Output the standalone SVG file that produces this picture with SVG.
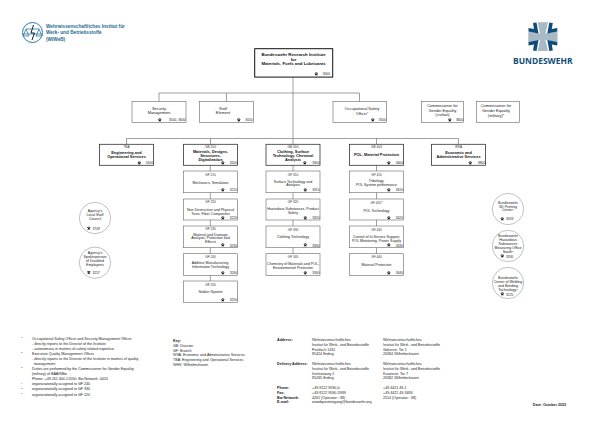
<svg xmlns="http://www.w3.org/2000/svg" xmlns:xlink="http://www.w3.org/1999/xlink" width="596" height="421" viewBox="0 0 596 421">
<style>
text{font-family:"Liberation Sans",Arial,sans-serif;font-size:3.6px;fill:#222}
.m{text-anchor:middle}
.e{text-anchor:end}
.b{font-weight:bold;fill:#111}
.t{font-size:4.3px}
.h{font-size:3.9px}
.g{font-size:3.2px;fill:#333}
.c{font-size:3.3px;fill:#222}
.s{font-size:2.4px}
.n{fill:#fff;stroke:#666;stroke-width:.6}
.d{fill:#fff;stroke:#333;stroke-width:.8}
.top{fill:#fff;stroke:#111;stroke-width:1}
.o{fill:#fff;stroke:#777;stroke-width:.45}
.l{fill:none;stroke:#777;stroke-width:.7}
.fn{font-size:3.65px;fill:#222}
.ad{font-size:3.65px;fill:#222}
</style>
<defs>
<symbol id="ph" viewBox="0 0 4 4" overflow="visible"><path d="M.2 1.4C.5.4 3.5.4 3.8 1.4L3.8 2 2.9 2 2.8 1.5 1.2 1.5 1.1 2 .2 2ZM1.2 1.9H2.8L3.5 3.6H.5Z" fill="#111"/></symbol>
<path id="arrow" d="M533 23L536.5 22.5L538.5 33.5L528.5 31.5L528.5 28L534 29Z" fill="#0f4d78"/>
</defs>
<rect width="596" height="421" fill="#fff"/>
<g id="logo-wiweb">
<circle cx="32.5" cy="32.5" r="10" fill="#fff" stroke="#2a7ba5" stroke-width="1"/>
<path d="M23 34H42M26 29L23 36H29ZM39 29L36 36H42ZM26 29H39" fill="none" stroke="#2a7ba5" stroke-width=".8"/>
<path d="M33.5 25L31 33H34.5L32 40" fill="none" stroke="#123" stroke-width="1"/>
<text x="46" y="28" class="b" style="font-size:4.7px;fill:#1f6a90">Wehrwissenschaftliches Institut für</text>
<text x="46" y="34.3" class="b" style="font-size:4.7px;fill:#1f6a90">Werk- und Betriebsstoffe</text>
<text x="46" y="40.5" class="b" style="font-size:4.7px;fill:#1f6a90">(WIWeB)</text>
</g>
<g id="logo-bundeswehr">
<path d="M537.7 22.3H548L545.5 33.5L557.5 31.5V42L545.5 40L548 51H537.7L540 40L528.3 42V31.5L540 33.5Z" fill="#a9b9c5"/>
<use href="#arrow"/>
<use href="#arrow" transform="matrix(-1 0 0 1 1085.8 0)"/>
<use href="#arrow" transform="matrix(1 0 0 -1 0 73.4)"/>
<use href="#arrow" transform="matrix(-1 0 0 -1 1085.8 73.4)"/>
<text x="513" y="63.8" textLength="59.5" lengthAdjust="spacingAndGlyphs" style="font-size:9.5px;font-weight:bold;fill:#0f4d78;font-family:'Open Sans','Liberation Sans',sans-serif">BUNDESWEHR</text>
</g>
<g id="connectors">
<path class="l" d="M293 77V144M159 93H359.5M159 93V101.5M226.5 93V101.5M359.5 93V101.5M126.5 138.5H458.5M126.5 138.5V144.3M210.5 138.5V144.3M376.5 138.5V144.3M458.5 138.5V144.3"/>
<path class="l" d="M210.3 165V281M293 165V254M376.5 165V254"/>
</g>
<g id="n-director"><rect class="top" x="254.7" y="48.7" width="78" height="28.4"/><text class="m b t" x="293.5" y="56.3">Bundeswehr Research Institute</text><text class="m b t" x="293.5" y="60.8">for</text><text class="m b t" x="293.5" y="65.3">Materials, Fuels and Lubricants</text><use href="#ph" x="314.5" y="72" width="3.6" height="3.6"/><text class="c e" x="330" y="75.3">3000</text></g>
<g id="n-security"><rect class="n" x="132" y="101.5" width="54" height="21"/><text class="m h" x="159" y="109.7">Security</text><text class="m h" x="159" y="114.3">Management</text><use href="#ph" x="158" y="118" width="3.6" height="3.6"/><text class="c e" x="185.5" y="121.3">3500, 3640</text></g>
<g id="n-staff"><rect class="n" x="199.5" y="101.5" width="54" height="21"/><text class="m h" x="223" y="109.7">Staff</text><text class="m h" x="223" y="114.3">Element</text><use href="#ph" x="237" y="118" width="3.6" height="3.6"/><text class="c e" x="252.7" y="121.3">3010</text></g>
<g id="n-safety"><rect class="n" x="333" y="101.5" width="53.5" height="21"/><text class="m h" x="362" y="110">Occupational Safety</text><text class="m h" x="362" y="114.7">Officer<tspan class="s" dy="-1.3">1</tspan></text><use href="#ph" x="371" y="118" width="3.6" height="3.6"/><text class="c e" x="386" y="121.3">3500</text></g>
<g id="n-gender-civ"><rect class="n" x="421.3" y="101.5" width="42.4" height="21"/><text class="m h" x="442.5" y="107">Commissioner for</text><text class="m h" x="442.5" y="111.6">Gender Equality</text><text class="m h" x="442.5" y="116.2">(civilian)</text><use href="#ph" x="448" y="118" width="3.6" height="3.6"/><text class="c e" x="463.3" y="121.3">3600</text></g>
<g id="n-gender-mil"><rect class="n" x="476.5" y="101.5" width="43" height="21"/><text class="m h" x="496" y="107.3">Commissioner for</text><text class="m h" x="496" y="112">Gender Equality</text><text class="m h" x="496" y="116.6">(military)<tspan class="s" dy="-1.3">3</tspan></text></g>

<g id="n-tba"><rect class="d" x="99.5" y="144.3" width="54" height="21"/><text class="m g" x="126.5" y="147.8">TBA</text><text class="m b h" x="126.5" y="153.8">Engineering and</text><text class="m b h" x="126.5" y="158">Operational Services</text><use href="#ph" x="137.5" y="161" width="3.6" height="3.6"/><text class="c e" x="153" y="164.2">3100</text></g>
<g id="n-gb200"><rect class="d" x="183.5" y="144.3" width="54" height="21"/><text class="m g" x="210.5" y="147.8">GB 200</text><text class="m b h" x="210.5" y="152.5">Materials, Designs,</text><text class="m b h" x="210.5" y="156.5">Structures,</text><text class="m b h" x="210.5" y="160.7">Digitalization</text><use href="#ph" x="221" y="161" width="3.6" height="3.6"/><text class="c e" x="237" y="164.2">3200</text></g>
<g id="n-gb300"><rect class="d" x="266" y="144.3" width="54" height="21"/><text class="m g" x="293" y="147.8">GB 300</text><text class="m b h" x="293" y="152.5">Clothing, Surface</text><text class="m b h" x="293" y="156.5">Technology, Chemical</text><text class="m b h" x="293" y="160.7">Analysis</text><use href="#ph" x="303" y="161" width="3.6" height="3.6"/><text class="c e" x="319.5" y="164.2">3300</text></g>
<g id="n-gb400"><rect class="d" x="349.5" y="144.3" width="54" height="21"/><text class="m g" x="376.5" y="147.8">GB 400</text><text class="m b h" x="376.5" y="156">POL, Material Protection</text><use href="#ph" x="387" y="161" width="3.6" height="3.6"/><text class="c e" x="403" y="164.2">3400</text></g>
<g id="n-wva"><rect class="d" x="431.5" y="144.3" width="54" height="21"/><text class="m g" x="458.5" y="147.8">WVA</text><text class="m b h" x="458.5" y="153.8">Economic and</text><text class="m b h" x="458.5" y="158">Administrative Services</text><use href="#ph" x="468.5" y="161" width="3.6" height="3.6"/><text class="c e" x="485" y="164.2">3800</text></g>

<g id="n-gf210"><rect class="n" x="183.5" y="171" width="54" height="21.7"/><text class="m g" x="210.5" y="175.7">GF 210</text><text class="m" x="210.5" y="183.5">Mechanics, Simulation</text><use href="#ph" x="221" y="188" width="3.6" height="3.6"/><text class="c e" x="237" y="191.4">3210</text></g>
<g id="n-gf220"><rect class="n" x="183.5" y="199" width="54" height="21"/><text class="m g" x="210.5" y="202.8">GF 220</text><text class="m" x="210.5" y="211.2">Non-Destructive and Physical</text><text class="m" x="210.5" y="214.7">Tests, Fiber Composites</text><use href="#ph" x="221" y="216" width="3.6" height="3.6"/><text class="c e" x="237" y="219.1">3220</text></g>
<g id="n-gf230"><rect class="n" x="183.5" y="226" width="54" height="21.7"/><text class="m g" x="210.5" y="230">GF 230</text><text class="m" x="210.5" y="236">Material and Damage</text><text class="m" x="210.5" y="239.4">Analysis, Protection and</text><text class="m" x="210.5" y="242.8">Effects</text><use href="#ph" x="221" y="243" width="3.6" height="3.6"/><text class="c e" x="237" y="246.7">3230</text></g>
<g id="n-gf240"><rect class="n" x="183.5" y="253.7" width="54" height="21.6"/><text class="m g" x="210.5" y="257.7">GF 240</text><text class="m" x="210.5" y="264.2">Additive Manufacturing,</text><text class="m" x="210.5" y="267.7">Information Technology</text><use href="#ph" x="221" y="271" width="3.6" height="3.6"/><text class="c e" x="237" y="274.2">3240</text></g>
<g id="n-gf250"><rect class="n" x="183.5" y="281" width="54" height="21.3"/><text class="m g" x="210.5" y="285.5">GF 250</text><text class="m" x="210.5" y="292.8">Soldier System</text><use href="#ph" x="221" y="298" width="3.6" height="3.6"/><text class="c e" x="237" y="301.3">3250</text></g>

<g id="n-gf310"><rect class="n" x="266" y="171" width="54" height="21.7"/><text class="m g" x="293" y="175.7">GF 310</text><text class="m" x="293" y="182.5">Surface Technology and</text><text class="m" x="293" y="186.3">Analysis</text><use href="#ph" x="303.5" y="188" width="3.6" height="3.6"/><text class="c e" x="319.5" y="191.4">3310</text></g>
<g id="n-gf320"><rect class="n" x="266" y="199" width="54" height="21"/><text class="m g" x="293" y="202.8">GF 320</text><text class="m" x="293" y="210">Hazardous Substances, Product</text><text class="m" x="293" y="213.8">Safety</text><use href="#ph" x="303.5" y="216" width="3.6" height="3.6"/><text class="c e" x="319.5" y="219.1">3320</text></g>
<g id="n-gf330"><rect class="n" x="266" y="226" width="54" height="21.7"/><text class="m g" x="293" y="230.5">GF 330</text><text class="m" x="293" y="238.3">Clothing Technology</text><use href="#ph" x="303.5" y="243" width="3.6" height="3.6"/><text class="c e" x="319.5" y="246.7">3330</text></g>
<g id="n-gf340"><rect class="n" x="266" y="253.7" width="54" height="21.6"/><text class="m g" x="293" y="258">GF 340</text><text class="m" x="293" y="264.7">Chemistry of Materials and POL,</text><text class="m" x="293" y="268.5">Environmental Protection</text><use href="#ph" x="303.5" y="271" width="3.6" height="3.6"/><text class="c e" x="319.5" y="274.2">3340</text></g>

<g id="n-gf410"><rect class="n" x="349.5" y="171" width="54" height="21.7"/><text class="m g" x="376.5" y="175.7">GF 410</text><text class="m" x="376.5" y="181.8">Tribology,</text><text class="m" x="376.5" y="186">POL System performance</text><use href="#ph" x="387" y="188" width="3.6" height="3.6"/><text class="c e" x="403" y="191.4">3410</text></g>
<g id="n-gf420"><rect class="n" x="349.5" y="199" width="54" height="21"/><text class="m g" x="376.5" y="203.7">GF 420<tspan class="s" dy="-1.3">2</tspan></text><text class="m" x="376.5" y="211.8">POL Technology</text><use href="#ph" x="387" y="216" width="3.6" height="3.6"/><text class="c e" x="403" y="219.1">3420</text></g>
<g id="n-gf430"><rect class="n" x="349.5" y="226" width="54" height="21.7"/><text class="m g" x="376.5" y="230.5">GF 430</text><text class="m" x="376.5" y="237.7">Control of In-Service Support,</text><text class="m" x="376.5" y="241.5">POL Monitoring, Power Supply</text><use href="#ph" x="387" y="243" width="3.6" height="3.6"/><text class="c e" x="403" y="246.7">3430</text></g>
<g id="n-gf440"><rect class="n" x="349.5" y="253.7" width="54" height="21.6"/><text class="m g" x="376.5" y="258">GF 440</text><text class="m" x="376.5" y="265.8">Material Protection</text><use href="#ph" x="387" y="271" width="3.6" height="3.6"/><text class="c e" x="403" y="274.2">3440</text></g>

<g id="n-council"><circle class="o" cx="95" cy="218" r="15.7"/><text class="m" x="95" y="212.3">Agency's</text><text class="m" x="95" y="216.3">Local Staff</text><text class="m" x="95" y="220.3">Council</text><use href="#ph" x="87" y="226.2" width="3.6" height="3.6"/><text class="c" x="92.5" y="229.5">3709</text></g>
<g id="n-disabled"><circle class="o" cx="95" cy="262.7" r="15.7"/><text class="m" x="95" y="254.3">Agency's</text><text class="m" x="95" y="258.3">Spokesperson</text><text class="m" x="95" y="262.3">of Disabled</text><text class="m" x="95" y="266.3">Employees</text><use href="#ph" x="87" y="270.5" width="3.6" height="3.6"/><text class="c" x="92.5" y="273.9">3257</text></g>
<g id="n-3d"><circle class="o" cx="508" cy="209" r="15.7"/><text class="m" x="508" y="204">Bundeswehr</text><text class="m" x="508" y="207.7">3D Printing</text><text class="m" x="508" y="211.4">Center<tspan class="s" dy="-1.3">4</tspan></text><use href="#ph" x="500.5" y="217" width="3.6" height="3.6"/><text class="c" x="506" y="220.2">3333</text></g>
<g id="n-hazard"><circle class="o" cx="508" cy="246" r="15.7"/><text class="m" x="508" y="237">Bundeswehr</text><text class="m" x="508" y="241">Hazardous</text><text class="m" x="508" y="245">Substances</text><text class="m" x="508" y="249">Measuring Office</text><text class="m" x="508" y="253">South<tspan class="s" dy="-1.3">5</tspan></text><use href="#ph" x="500.5" y="254" width="3.6" height="3.6"/><text class="c" x="506" y="257.5">3330</text></g>
<g id="n-welding"><circle class="o" cx="508" cy="283" r="15.7"/><text class="m" x="508" y="279.3">Bundeswehr</text><text class="m" x="508" y="283.3">Center of Welding</text><text class="m" x="508" y="287.3">and Bonding</text><text class="m" x="508" y="291.3">Technology<tspan class="s" dy="-1.3">6</tspan></text><use href="#ph" x="500.5" y="292" width="3.6" height="3.6"/><text class="c" x="506" y="295.5">3225</text></g>

<g id="footnotes">
<text class="s" x="21" y="338">1</text><text class="fn" x="32" y="339.7">Occupational Safety Officer and Security Management Officer:</text>
<text class="fn" x="32" y="344.7">- directly reports to the Director of the Institute</text>
<text class="fn" x="32" y="349.7">- autonomous in matters of safety related expertise</text>
<text class="s" x="21" y="353">2</text><text class="fn" x="32" y="354.7">Executive Quality Management Officer</text>
<text class="fn" x="32" y="359.7">- directly reports to the Director of the Institute in matters of quality</text>
<text class="fn" x="34" y="364.7">management</text>
<text class="s" x="21" y="368">3</text><text class="fn" x="32" y="369.7">Duties are performed by the Commissioner for Gender Equality</text>
<text class="fn" x="32" y="374.7">(military) of BAAINBw</text>
<text class="fn" x="32" y="379.7">Phone: +49 261 400-12050; Bw Network: 4424</text>
<text class="s" x="21" y="383.5">4</text><text class="fn" x="32" y="385">organizationally assigned to GF 240</text>
<text class="s" x="21" y="388.5">5</text><text class="fn" x="32" y="390">organizationally assigned to GF 330</text>
<text class="s" x="21" y="394">6</text><text class="fn" x="32" y="395.5">organizationally assigned to GF 220</text>
</g>
<g id="key">
<text class="fn b" x="173" y="342">Key:</text>
<text class="fn" x="173" y="347">GB: Division</text>
<text class="fn" x="173" y="351.6">GF: Branch</text>
<text class="fn" x="173" y="356.3">WVA: Economic and Administrative Services</text>
<text class="fn" x="173" y="361">TBA: Engineering and Operational Services</text>
<text class="fn" x="173" y="365.6">WHV: Wilhelmshaven</text>
</g>
<g id="address">
<text class="ad b" x="277" y="341">Address:</text>
<text class="ad" x="312" y="341">Wehrwissenschaftliches</text><text class="ad" x="312" y="346">Institut für Werk- und Betriebsstoffe</text><text class="ad" x="312" y="350.7">Postfach 1432</text><text class="ad" x="312" y="355.3">85424 Erding</text>
<text class="ad" x="383" y="341">Wehrwissenschaftliches</text><text class="ad" x="383" y="346">Institut für Werk- und Betriebsstoffe</text><text class="ad" x="383" y="350.7">Gökerstr. Tor 1</text><text class="ad" x="383" y="355.3">26384 Wilhelmshaven</text>
<text class="ad b" x="277" y="365">Delivery Address:</text>
<text class="ad" x="312" y="365">Wehrwissenschaftliches</text><text class="ad" x="312" y="370">Institut für Werk- und Betriebsstoffe</text><text class="ad" x="312" y="374.7">Institutsweg 1</text><text class="ad" x="312" y="379.3">85435 Erding</text>
<text class="ad" x="383" y="365">Wehrwissenschaftliches</text><text class="ad" x="383" y="370">Institut für Werk- und Betriebsstoffe</text><text class="ad" x="383" y="374.7">Kasinostr. Tor 7</text><text class="ad" x="383" y="379.3">26382 Wilhelmshaven</text>
<text class="ad b" x="277" y="388.7">Phone:</text><text class="ad" x="312" y="388.7">+49 8122 9590-0</text><text class="ad" x="383" y="388.7">+49 4421 49-1</text>
<text class="ad b" x="277" y="393.7">Fax:</text><text class="ad" x="312" y="393.7">+49 8122 9590-3939</text><text class="ad" x="383" y="393.7">+49 4421 49-3486</text>
<text class="ad b" x="277" y="398.7">Bw Network:</text><text class="ad" x="312" y="398.7">4261 (Operator: -98)</text><text class="ad" x="383" y="398.7">2514 (Operator: -98)</text>
<text class="ad b" x="277" y="403.3">E-mail:</text><text class="ad" x="312" y="403.3">wiwebposteingang@bundeswehr.org</text>
<text class="ad b e" x="566" y="405.7">Date: October 2023</text>
</g>
</svg>
